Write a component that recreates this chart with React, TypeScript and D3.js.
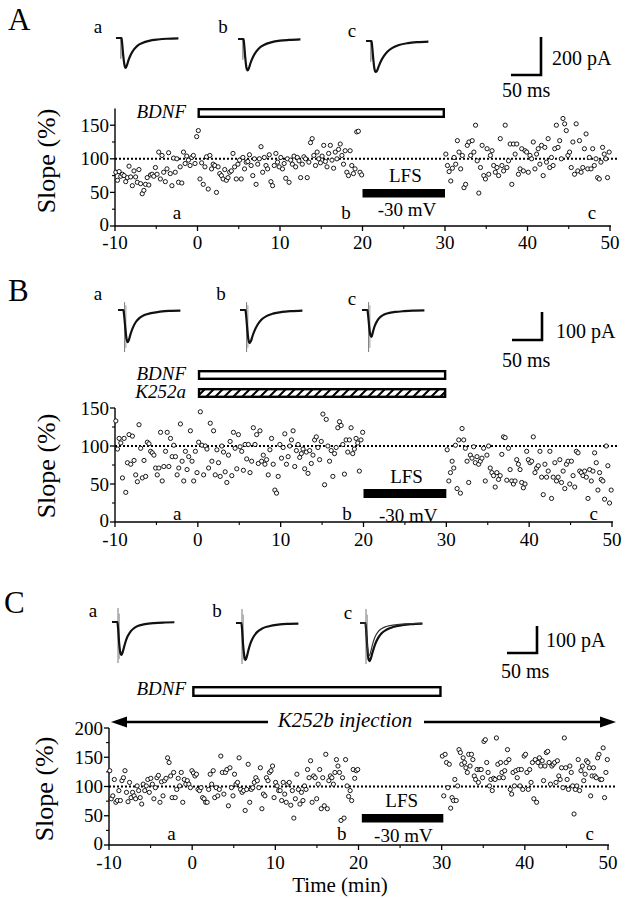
import React from 'react';
import * as d3 from 'd3';

const FONT = 'Liberation Serif, Times New Roman, Times, serif';

// ---- time axis ----
const TIME_MAJOR = [-10, 0, 10, 20, 30, 40, 50];
const TIME_MINOR = [-5, 5, 15, 25, 35, 45];

// ---- Panel A slope values (%), -10..20 min and 30..50 min ----
const A_PRE = [80,68,81,74,77, 75,66,72,89,73, 60,82,73,65,84, 63,48,53,62,72, 61,76,77,74,87, 77,110,70,105,80, 66,85,109,78,60, 101,80,100,65,88, 64,110,93,104,98, 90,102,105,93,133, 142,70,94,62,88, 103,55,105,85,92, 90,50,88,78,75, 70,84,68,72,80, 82,108,88,70,92, 98,70,102,85,95, 96,106,90,75,100, 62,92,100,118,80, 102,90,85,106,66, 60,90,108,95,88, 102,85,93,71,100, 65,98,92,104,88, 102,97,72,92,103, 100,72,95,124,130, 105,90,110,100,94, 104,120,96,88,108, 120,98,86,110,100, 114,122,105,92,112, 80,75,112,90,78, 85,140,141,80,76];
const A_POST = [107,90,81,67,86, 102,92,127,110,85, 105,57,62,120,125, 105,127,110,150,97, 49,87,120,75,70, 115,77,105,112,90, 80,87,75,130,90, 82,150,87,97,122, 62,122,107,122,77, 85,115,82,112,110, 80,105,100,125,85, 107,115,92,120,75, 117,95,130,87,102, 90,115,150,117,127, 100,160,152,142,105, 110,87,125,77,152, 82,127,80,87,115, 137,85,102,85,115, 90,100,72,70,95, 117,107,100,72,110];

// ---- Panel B ----
const B_PRE = [133,96,110,104,58, 110,39,78,115,76, 113,81,62,53,128, 97,58,81,60,105, 103,93,91,88,71, 62,71,118,54,73, 93,118,73,110,86, 101,86,62,71,129, 80,54,93,69,86, 120,80,54,93,65, 105,145,101,62,100, 96,71,130,80,120, 62,95,78,60,100, 92,66,52,88,106, 61,118,97,70,115, 99,93,68,102,83, 102,65,80,124,102, 115,77,120,80,88, 76,82,62,95,110, 76,42,38,60,102, 84,98,116,76,86, 100,108,120,73,94, 102,85,90,96,70, 92,64,94,77,88, 108,112,98,82,106, 142,49,135,100,80, 94,60,90,98,124, 132,127,102,63,108, 92,108,124,90,96, 110,104,67,108,118];
const B_POST = [95,54,65,80,71, 101,44,108,38,123, 108,97,80,52,88, 84,99,78,86,76, 80,84,97,54,88, 100,71,65,61,46, 65,56,61,89,112, 111,55,97,69,54, 50,54,82,76,69, 52,45,50,93,82, 78,80,112,65,71, 74,93,59,36,76, 59,67,93,31,59, 78,54,59,82,52, 67,44,76,80,50, 80,61,46,93,91, 67,65,61,67,59, 31,69,54,67,91, 78,42,65,56,54, 30,100,74,25,42];

// ---- Panel C ----
const C_PRE = [127,79,84,112,73,76,93,76,110,115,127,90,74,107,81,90,84,79,101,93,81,70,104,93,101,112,90,114,104,79,98,115,119,73,108,84,110,114,149,141,118,81,124,81,95,114,101,124,73,112,104,110,104,98,127,123,118,121,95,93,98,81,79,73,73,95,121,104,127,81,98,84,95,152,124,87,124,129,67,132,98,84,121,104,107,149,95,90,93,59,95,138,73,95,98,107,115,110,98,132,62,87,84,115,110,124,127,135,81,107,101,93,93,76,107,87,73,104,107,68,93,46,79,121,95,70,90,76,101,95,129,115,144,73,118,115,79,104,129,62,115,67,155,62,110,118,115,104,124,146,135,124,42,115,46,146,101,83,93,76,129,114,127,129];
const C_POST = [152,84,155,141,98,138,63,81,76,112,76,101,163,158,138,149,141,132,124,155,135,155,146,118,112,129,107,129,129,115,177,180,141,124,101,112,93,114,112,183,138,115,141,124,115,127,141,163,146,95,87,124,101,127,115,129,101,129,95,152,155,124,95,129,107,141,79,146,73,141,149,135,144,110,135,158,160,141,104,135,138,141,107,144,118,112,132,98,183,132,112,95,135,124,101,53,95,101,146,93,127,135,110,121,144,141,132,84,118,132,118,115,149,155,112,112,166,81,124,146];

// ---- EPSC traces: time (ms) and current (pA) ----
const TRACE_MS = [0, 9, 10, 12, 14, 16, 18, 21, 25, 30, 36, 44, 55, 70, 85, 104];
const A_TRACE_a = [0,0,-20,-90,-140,-158,-145,-115,-85,-60,-40,-26,-15,-8,-4,-2];
const A_TRACE_b = [0,0,-20,-95,-150,-165,-155,-125,-95,-68,-46,-30,-18,-9,-5,-2];
const A_TRACE_c = [0,0,-20,-90,-145,-163,-158,-135,-105,-78,-55,-36,-21,-11,-6,-3];
const B_TRACE_a = [0,0,-15,-60,-100,-115,-108,-85,-62,-42,-28,-18,-11,-6,-3,-2];
const B_TRACE_b = [0,0,-15,-65,-105,-118,-112,-92,-70,-50,-34,-22,-13,-7,-4,-2];
const B_TRACE_c = [0,0,-15,-60,-90,-96,-80,-58,-40,-26,-17,-11,-7,-4,-2,-1];
const C_TRACE_a = [0,0,-20,-80,-115,-122,-110,-85,-58,-38,-24,-14,-8,-4,-2,-1];
const C_TRACE_b = [0,0,-20,-85,-125,-137,-125,-98,-70,-48,-32,-20,-12,-6,-3,-2];
const C_TRACE_c = [0,0,-20,-85,-130,-141,-132,-108,-80,-56,-38,-25,-15,-8,-4,-2];
const C_TRACE_c2 = [0,0,-20,-80,-115,-120,-105,-78,-52,-33,-21,-13,-8,-4,-2,-1];

const TRACE_LABELS = ['a', 'b', 'c'];
const SAMPLE_TIMES = [-2.5, 18, 47.8]; // where a, b, c were sampled

type Cfg = {
  letter: string; letterX: number; letterY: number;
  x0: number; x1: number; yBase: number; yTop: number; yMax: number;
  yMajor: number[]; yMinor: number[];
  pre: number[]; post: number[];
  slopeX: number; slopeY: number;
  tickLabelDy: number;
  lfsTop: number; lfsH: number; lfsStart: number; lfsEnd: number;
  lfsTextY: number; mvTextY: number; sampleY: number;
  traces: number[][]; extraTrace?: number[] | null; extraIdx?: number;
  traceX: number[]; traceBase: number[]; pxPerPa: number;
  artMs: number; artTop: number; artBot: number;
  labelPos: number[][];
  scaleX: number; scaleBottom: number; scalePa: number;
  paTextX: number; paTextY: number; msTextX: number; msTextY: number;
  bars: { label: string; top: number; h: number; start: number; end: number; hatch?: boolean; textY: number }[];
};

const PX_PER_MS = 0.6;

const cfgA: Cfg = {
  letter: 'A', letterX: 8, letterY: 30,
  x0: 115, x1: 610, yBase: 226, yTop: 108.4, yMax: 175,
  yMajor: [0, 50, 100, 150], yMinor: [25, 75, 125],
  pre: A_PRE, post: A_POST, slopeX: 46, slopeY: 161, tickLabelDy: 23,
  lfsTop: 189, lfsH: 8.5, lfsStart: 20, lfsEnd: 30, lfsTextY: 182, mvTextY: 216, sampleY: 219,
  traces: [A_TRACE_a, A_TRACE_b, A_TRACE_c], extraTrace: null,
  traceX: [116, 238, 366], traceBase: [38, 39, 41], pxPerPa: 0.19,
  artMs: 8, artTop: 5, artBot: -110,
  labelPos: [[98, 33], [223, 33], [352, 37]],
  scaleX: 541, scaleBottom: 75, scalePa: 200,
  paTextX: 552, paTextY: 65, msTextX: 502, msTextY: 97,
  bars: [{ label: 'BDNF', top: 108, h: 10, start: 0, end: 30, textY: 118 }],
};

const cfgB: Cfg = {
  letter: 'B', letterX: 8, letterY: 301,
  x0: 115, x1: 612, yBase: 522, yTop: 408, yMax: 150,
  yMajor: [0, 50, 100, 150], yMinor: [25, 75, 125],
  pre: B_PRE, post: B_POST, slopeX: 46, slopeY: 466, tickLabelDy: 24,
  lfsTop: 489, lfsH: 9, lfsStart: 20, lfsEnd: 30, lfsTextY: 483, mvTextY: 522, sampleY: 520,
  traces: [B_TRACE_a, B_TRACE_b, B_TRACE_c], extraTrace: null,
  traceX: [118, 240, 362], traceBase: [310, 310, 310], pxPerPa: 0.28,
  artMs: 11, artTop: 28, artBot: -150,
  labelPos: [[98, 300], [221, 300], [352, 305]],
  scaleX: 542, scaleBottom: 340, scalePa: 100,
  paTextX: 556, paTextY: 338, msTextX: 502, msTextY: 367,
  bars: [
    { label: 'BDNF', top: 370, h: 10, start: 0, end: 30, textY: 380 },
    { label: 'K252a', top: 388, h: 10, start: 0, end: 30, hatch: true, textY: 398 },
  ],
};

const cfgC: Cfg = {
  letter: 'C', letterX: 4, letterY: 613,
  x0: 109, x1: 608, yBase: 845, yTop: 728, yMax: 200,
  yMajor: [0, 50, 100, 150, 200], yMinor: [25, 75, 125, 175],
  pre: C_PRE, post: C_POST, slopeX: 44, slopeY: 789, tickLabelDy: 24,
  lfsTop: 814, lfsH: 8.5, lfsStart: 20.4, lfsEnd: 30.2, lfsTextY: 807, mvTextY: 842, sampleY: 840,
  traces: [C_TRACE_a, C_TRACE_b, C_TRACE_c], extraTrace: C_TRACE_c2, extraIdx: 2,
  traceX: [112, 236, 360], traceBase: [622, 623, 623], pxPerPa: 0.27,
  artMs: 10, artTop: 52, artBot: -152,
  labelPos: [[93, 617], [217, 617], [348, 619]],
  scaleX: 537, scaleBottom: 653, scalePa: 100,
  paTextX: 546, paTextY: 647, msTextX: 501, msTextY: 678,
  bars: [{ label: 'BDNF', top: 686, h: 11, start: 0, end: 30, textY: 695 }],
};

const T = (p: any) => <text fontFamily={FONT} {...p} />;

function Panel({ c }: { c: Cfg }) {
  const xs = d3.scaleLinear().domain([-10, 50]).range([c.x0, c.x1]);
  const ys = d3.scaleLinear().domain([0, c.yMax]).range([c.yBase, c.yTop]);
  const nPre = c.pre.length, nPost = c.post.length;
  const pts = [
    ...c.pre.map((v, i) => [-10 + (i + 0.5) * 30 / nPre, v]),
    ...c.post.map((v, i) => [30 + (i + 0.5) * 20 / nPost, v]),
  ];
  const tracePath = (arr: number[], idx: number) =>
    d3.line<number>()
      .x((_, i) => c.traceX[idx] + TRACE_MS[i] * PX_PER_MS)
      .y((v) => c.traceBase[idx] - v * c.pxPerPa)
      .curve(d3.curveMonotoneX)(arr) || '';
  const scaleLen = c.scalePa * c.pxPerPa;
  const msLen = 50 * PX_PER_MS;
  return (
    <g>
      <T x={c.letterX} y={c.letterY} fontSize={31}>{c.letter}</T>
      {c.traces.map((tr, i) => (
        <g key={'tr' + i}>
          <T x={c.labelPos[i][0]} y={c.labelPos[i][1]} fontSize={19} textAnchor="middle">{TRACE_LABELS[i]}</T>
          <line x1={c.traceX[i] + c.artMs * PX_PER_MS} x2={c.traceX[i] + c.artMs * PX_PER_MS}
            y1={c.traceBase[i] - c.artTop * c.pxPerPa} y2={c.traceBase[i] - c.artBot * c.pxPerPa}
            stroke="#555" strokeWidth={0.8} />
          <line x1={c.traceX[i] + c.artMs * PX_PER_MS + 1.3} x2={c.traceX[i] + c.artMs * PX_PER_MS + 1.3}
            y1={c.traceBase[i] - c.artTop * 0.6 * c.pxPerPa} y2={c.traceBase[i] - c.artBot * 0.9 * c.pxPerPa}
            stroke="#777" strokeWidth={0.7} />
          <path d={tracePath(tr, i)} fill="none" stroke="#111" strokeWidth={2.2} strokeLinejoin="round" />
          {c.extraTrace && c.extraIdx === i && (
            <path d={tracePath(c.extraTrace, i)} fill="none" stroke="#333" strokeWidth={1.2} />
          )}
        </g>
      ))}
      <path d={`M${c.scaleX},${c.scaleBottom - scaleLen} V${c.scaleBottom} H${c.scaleX - msLen}`}
        fill="none" stroke="#000" strokeWidth={2.6} />
      <T x={c.paTextX} y={c.paTextY} fontSize={20}>{c.scalePa} pA</T>
      <T x={c.msTextX} y={c.msTextY} fontSize={20}>50 ms</T>
      {c.bars.map((b, i) => (
        <g key={'bar' + i}>
          <T x={186} y={b.textY} fontSize={19} fontStyle="italic" textAnchor="end">{b.label}</T>
          <rect x={xs(b.start) + 1.2} y={b.top + 1.2} width={xs(b.end) - xs(b.start) - 2.4} height={b.h - 2.4}
            fill={b.hatch ? 'url(#hatch)' : '#fff'} stroke="#000" strokeWidth={2.4} />
        </g>
      ))}
      <line x1={c.x0} x2={c.x0} y1={c.yBase} y2={c.yTop} stroke="#000" strokeWidth={1.4} />
      <line x1={c.x0} x2={c.x1 + 1} y1={c.yBase} y2={c.yBase} stroke="#000" strokeWidth={1.4} />
      {c.yMajor.map((v) => (
        <g key={'ym' + v}>
          <line x1={c.x0 - 5} x2={c.x0} y1={ys(v)} y2={ys(v)} stroke="#000" strokeWidth={1.3} />
          <T x={c.x0 - 6} y={ys(v) - (v === 0 ? 1.5 : 0)} dy="0.35em" fontSize={19} textAnchor="end">{v}</T>
        </g>
      ))}
      {c.yMinor.map((v) => (
        <line key={'yn' + v} x1={c.x0 - 3} x2={c.x0} y1={ys(v)} y2={ys(v)} stroke="#000" strokeWidth={1.1} />
      ))}
      {TIME_MAJOR.map((t) => (
        <g key={'xm' + t}>
          <line x1={xs(t)} x2={xs(t)} y1={c.yBase} y2={c.yBase + 5} stroke="#000" strokeWidth={1.3} />
          <T x={xs(t)} y={c.yBase + c.tickLabelDy} fontSize={19} textAnchor="middle">{t}</T>
        </g>
      ))}
      {TIME_MINOR.map((t) => (
        <line key={'xn' + t} x1={xs(t)} x2={xs(t)} y1={c.yBase} y2={c.yBase + 3} stroke="#000" strokeWidth={1.1} />
      ))}
      <T transform={`translate(${c.slopeX},${c.slopeY}) rotate(-90)`} fontSize={26}
        textAnchor="middle" dy="0.35em">Slope (%)</T>
      <line x1={c.x0} x2={c.x1 + 7} y1={ys(100)} y2={ys(100)} stroke="#000" strokeWidth={2} strokeDasharray="2,2" />
      <rect x={xs(c.lfsStart)} y={c.lfsTop} width={xs(c.lfsEnd) - xs(c.lfsStart)} height={c.lfsH} fill="#000" />
      <T x={xs(25.2)} y={c.lfsTextY} fontSize={19} textAnchor="middle">LFS</T>
      <T x={xs(25.4)} y={c.mvTextY} fontSize={19} textAnchor="middle">-30 mV</T>
      {TRACE_LABELS.map((l, i) => (
        <T key={'s' + l} x={xs(SAMPLE_TIMES[i])} y={c.sampleY} fontSize={19} textAnchor="middle">{l}</T>
      ))}
      {pts.map((p, i) => (
        <circle key={'p' + i} cx={xs(p[0])} cy={ys(p[1])} r={2.1} fill="#fff" stroke="#000" strokeWidth={0.9} />
      ))}
    </g>
  );
}

export default function App() {
  const xsC = d3.scaleLinear().domain([-10, 50]).range([cfgC.x0, cfgC.x1]);
  const arrowY = 722;
  return (
    <svg width={625} height={899} style={{ position: 'absolute', left: 0, top: 0, background: '#fff' }}>
      <defs>
        <pattern id="hatch" patternUnits="userSpaceOnUse" width={9} height={9}>
          <path d="M0,9 L9,0 M-1,1 L1,-1 M8,10 L10,8" stroke="#000" strokeWidth={2} />
        </pattern>
      </defs>
      <rect x={0} y={0} width={625} height={899} fill="#fff" />
      <Panel c={cfgA} />
      <Panel c={cfgB} />
      <Panel c={cfgC} />
      <line x1={xsC(-10) + 10} x2={268} y1={arrowY} y2={arrowY} stroke="#000" strokeWidth={2.6} />
      <line x1={424} x2={xsC(50) - 2} y1={arrowY} y2={arrowY} stroke="#000" strokeWidth={2.6} />
      <polygon points={`${xsC(-10) + 2},${arrowY} ${xsC(-10) + 18},${arrowY - 5.5} ${xsC(-10) + 18},${arrowY + 5.5}`} fill="#000" />
      <polygon points={`${xsC(50) + 8},${arrowY} ${xsC(50) - 8},${arrowY - 5.5} ${xsC(50) - 8},${arrowY + 5.5}`} fill="#000" />
      <T x={345} y={727} fontSize={21} fontStyle="italic" textAnchor="middle">K252b injection</T>
      <T x={340} y={892} fontSize={21} textAnchor="middle">Time (min)</T>
    </svg>
  );
}
